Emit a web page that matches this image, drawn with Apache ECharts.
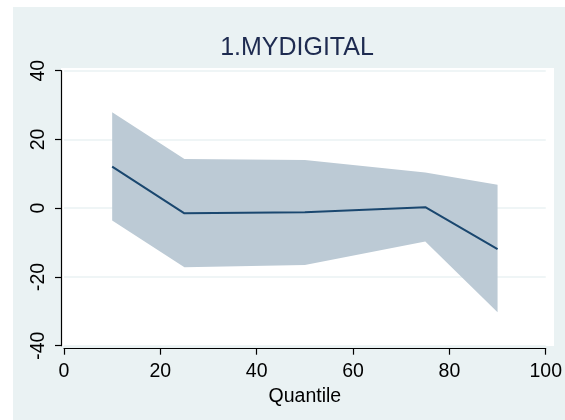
<!DOCTYPE html>
<html>
<head>
<meta charset="utf-8">
<script src="https://cdn.jsdelivr.net/npm/echarts@6/dist/echarts.min.js"></script>
<style>
  html, body { margin: 0; padding: 0; background: #ffffff; }
  #chart { width: 565px; height: 420px; }
</style>
</head>
<body>
<div id="chart"></div>
<script>
// Quantile regression coefficients for 1.MYDIGITAL with confidence band
var quantiles = [10, 25, 50, 75, 90];
var coef      = [12.1, -1.5, -1.2, 0.3, -11.9];
var ciUpper   = [27.9, 14.3, 14.0, 10.4, 6.8];
var ciLower   = [-3.6, -17.2, -16.5, -9.7, -30.3];

var xTicks = { min: 0, max: 100, interval: 20 };
var yTicks = { min: -40, max: 40, interval: 20 };

var chart = echarts.init(document.getElementById('chart'), null, { renderer: 'canvas' });

var linePoints = quantiles.map(function (q, i) { return [q, coef[i]]; });

var option = {
  animation: false,
  backgroundColor: '#ffffff',
  textStyle: { fontFamily: 'Liberation Sans, Arial, sans-serif' },
  title: {
    text: '1.MYDIGITAL',
    left: 292,
    textAlign: 'center',
    top: 31,
    textStyle: {
      fontFamily: 'Liberation Sans, Arial, sans-serif',
      fontSize: 25,
      fontWeight: 'normal',
      color: '#1e2b50'
    }
  },
  graphic: [
    {
      type: 'rect', z: -10, silent: true,
      shape: { x: 13, y: 7, width: 552, height: 413 },
      style: { fill: '#eaf2f3' }
    },
    {
      type: 'rect', z: -9, silent: true,
      shape: { x: 61, y: 68, width: 493, height: 278 },
      style: { fill: '#ffffff' }
    }
  ],
  grid: { left: 64, right: 14.5, top: 70.7, bottom: 74.3, containLabel: false },
  xAxis: {
    type: 'value',
    min: xTicks.min, max: xTicks.max, interval: xTicks.interval,
    offset: 3,
    name: 'Quantile',
    nameLocation: 'middle',
    nameGap: 35,
    nameTextStyle: { fontSize: 19.5, color: '#000000' },
    axisLine: { show: true, onZero: false, lineStyle: { color: '#000000', width: 1.2 } },
    axisTick: { show: true, length: 6, lineStyle: { color: '#000000', width: 1.2 } },
    axisLabel: { fontSize: 19.5, color: '#000000', margin: 13 },
    splitLine: { show: false }
  },
  yAxis: {
    type: 'value',
    min: yTicks.min, max: yTicks.max, interval: yTicks.interval,
    offset: 3,
    axisLine: { show: true, onZero: false, lineStyle: { color: '#000000', width: 1.2 } },
    axisTick: { show: true, length: 6, lineStyle: { color: '#000000', width: 1.2 } },
    axisLabel: { fontSize: 19.5, color: '#000000', rotate: 90, margin: 12 },
    splitLine: { show: true, lineStyle: { color: '#eaf2f3', width: 1.5 } }
  },
  series: [
    {
      // confidence band drawn as one polygon through the axis scales
      type: 'custom',
      z: 1,
      silent: true,
      data: [[quantiles[0], ciUpper[0]]],
      renderItem: function (params, api) {
        var pts = [];
        for (var i = 0; i < quantiles.length; i++) {
          pts.push(api.coord([quantiles[i], ciUpper[i]]));
        }
        for (var j = quantiles.length - 1; j >= 0; j--) {
          pts.push(api.coord([quantiles[j], ciLower[j]]));
        }
        return {
          type: 'polygon',
          shape: { points: pts },
          style: { fill: '#bccad5', stroke: null }
        };
      }
    },
    {
      type: 'line',
      z: 2,
      data: linePoints,
      symbol: 'none',
      lineStyle: { color: '#1a476f', width: 2 }
    }
  ]
};

chart.setOption(option);
</script>
</body>
</html>
